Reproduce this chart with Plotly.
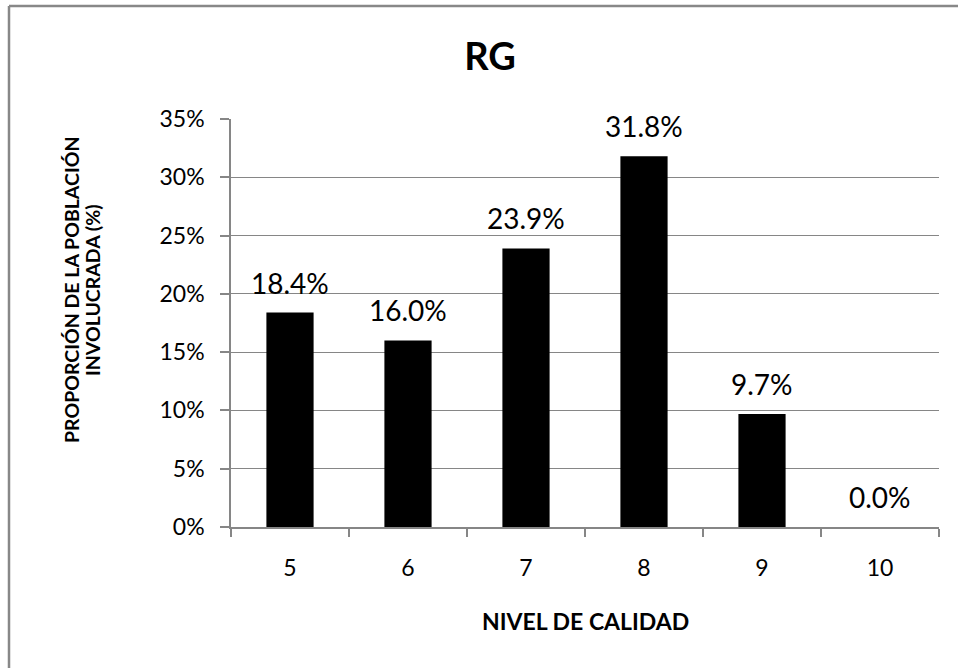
import plotly.graph_objects as go

categories = ["5", "6", "7", "8", "9", "10"]
values = [0.184, 0.160, 0.239, 0.318, 0.097, 0.000]
labels = ["18.4%", "16.0%", "23.9%", "31.8%", "9.7%", "0.0%"]
title_text = "RG"
x_title = "NIVEL DE CALIDAD"
y_title_lines = ["PROPORCIÓN DE LA POBLACIÓN", "INVOLUCRADA (%)"]

W, H = 958, 668
L, R, T, B = 231, 19, 119, 141
PW, PH = W - L - R, H - T - B

def px(x):
    return (x - L) / PW

def py(y):
    return (H - B - y) / PH

FONT = "Lato, Carlito, Calibri, sans-serif"
GRAY = "#868686"

fig = go.Figure()
fig.add_trace(go.Bar(
    x=categories, y=values,
    marker=dict(color="#000000", line=dict(width=0)),
    hoverinfo="skip",
))

annotations = []
for i, (v, t) in enumerate(zip(values, labels)):
    annotations.append(dict(
        x=i, y=v, xref="x", yref="y", text=t, showarrow=False,
        yanchor="middle", yshift=30,
        font=dict(family=FONT, size=28, color="#000000"),
    ))

annotations.append(dict(
    x=0.5, y=py(621), xref="paper", yref="paper", text="<b>%s</b>" % x_title,
    showarrow=False, xanchor="center", yanchor="middle",
    font=dict(family=FONT, size=23, color="#000000"),
))
for line, cx in zip(y_title_lines, [71, 92]):
    annotations.append(dict(
        x=px(cx), y=py(290), xref="paper", yref="paper", text="<b>%s</b>" % line,
        showarrow=False, xanchor="center", yanchor="middle", textangle=-90,
        font=dict(family=FONT, size=19.5, color="#000000"),
    ))

fig.update_layout(
    width=W, height=H,
    margin=dict(l=L, r=R, t=T, b=B, pad=0),
    paper_bgcolor="white", plot_bgcolor="white",
    showlegend=False,
    bargap=0.6,
    title=dict(
        text="<b>%s</b>" % title_text,
        x=490 / W, xref="container", xanchor="center",
        y=1 - 57 / H, yref="container", yanchor="middle",
        font=dict(family=FONT, size=38, color="#000000"),
    ),
    xaxis=dict(
        type="category",
        range=[-0.5, len(categories) - 0.5],
        showgrid=False, zeroline=False,
        showline=True, linecolor=GRAY, linewidth=1.5,
        ticks="outside", ticklen=8, tickcolor=GRAY, tickwidth=1.5,
        tickson="boundaries",
        ticklabelstandoff=20,
        tickfont=dict(family=FONT, size=23, color="#000000"),
    ),
    yaxis=dict(
        range=[0, 0.35], dtick=0.05, tickformat=".0%",
        showgrid=True, gridcolor=GRAY, gridwidth=1.2,
        zeroline=False,
        showline=True, linecolor=GRAY, linewidth=1.5,
        ticks="outside", ticklen=9, tickcolor=GRAY, tickwidth=1.5,
        ticklabelstandoff=11,
        tickfont=dict(family=FONT, size=23, color="#000000"),
    ),
    annotations=annotations,
    shapes=[
        dict(type="line", xref="paper", yref="paper",
             x0=px(9), x1=px(W + 5), y0=py(6), y1=py(6),
             line=dict(color="#888888", width=2.5)),
        dict(type="line", xref="paper", yref="paper",
             x0=px(9), x1=px(9), y0=py(6), y1=py(H + 5),
             line=dict(color="#888888", width=2.5)),
    ],
)

fig.write_html("out.html", config={"displayModeBar": False},
               post_script="document.body.style.margin='0';")
